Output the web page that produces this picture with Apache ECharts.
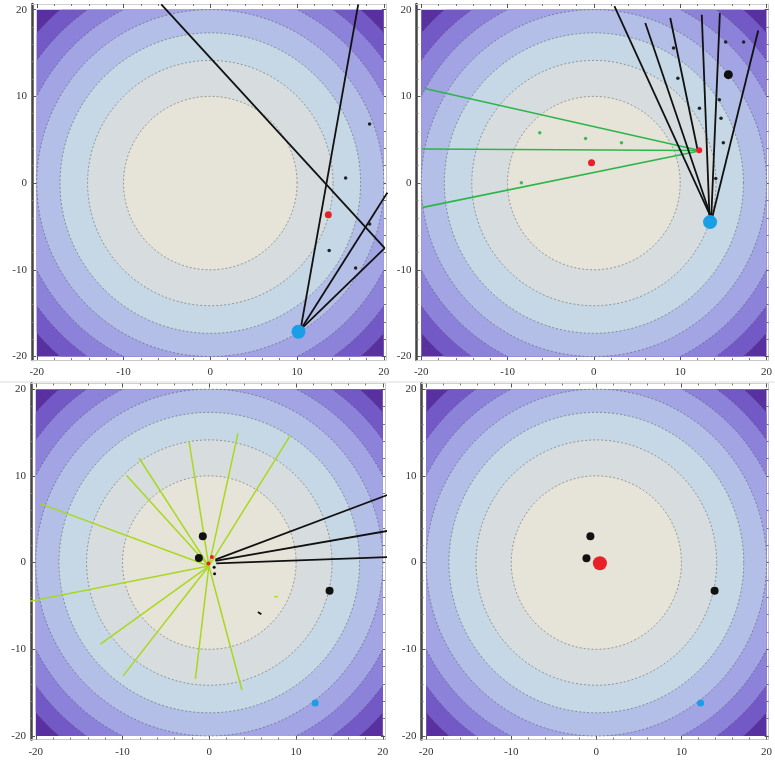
<!DOCTYPE html>
<html><head><meta charset="utf-8">
<script src="https://cdn.jsdelivr.net/npm/echarts@6/dist/echarts.min.js"></script>
<style>html,body{margin:0;padding:0;background:#fff}#c{width:775px;height:760px}</style>
</head><body><div id="c"></div>
<script>
// ---- contour definition: f = x^2 + y^2 ----
const contourLevels = [700, 600, 500, 400, 300, 200, 100];
const bandColors = ['#58309F', '#7259C6', '#8C82DA', '#A2A4E3', '#B3BFE6', '#C6D8E5', '#D7DDDE', '#E6E3D8'];
const majorTicks = [-20, -10, 0, 10, 20];
const tickLabels = ['-20', '-10', '0', '10', '20'];
const minorTicks = [-18, -16, -14, -12, -8, -6, -4, -2, 2, 4, 6, 8, 12, 14, 16, 18];

// ---- Panel 1 (top left) ----
const p1BlackLines = [
  [[10.4, -16.9], [17.05, 20.6]],
  [[10.4, -16.9], [20.4, -1.1]],
  [[10.4, -16.9], [20.1, -7.5]],
  [[-5.65, 20.6], [20.1, -7.5]]
];
const p1SmallBlack = [[18.36, 6.8], [15.6, 0.58], [18.36, -4.73], [13.7, -7.77], [16.75, -9.8]];
const p1Red = [[13.6, -3.65]];
const p1Blue = [[10.16, -17.15]];

// ---- Panel 2 (top right) ----
const p2BlackLines = [
  [[13.6, -4.0], [5.96, 18.46]],
  [[13.6, -4.0], [2.38, 20.4]],
  [[12.0, 3.9], [8.85, 19.04]],
  [[13.4, -4.0], [12.5, 19.4]],
  [[13.6, -4.0], [14.6, 19.6]],
  [[13.7, -4.0], [19.04, 17.6]]
];
const p2GreenLines = [
  [[11.9, 3.85], [-19.6, 10.9]],
  [[11.9, 3.75], [-19.9, 3.93]],
  [[11.9, 3.65], [-19.8, -2.8]]
];
const p2SmallBlack = [[9.23, 15.57], [15.27, 16.26], [17.35, 16.26], [9.73, 12.1], [12.23, 8.63], [14.54, 9.6], [14.73, 7.48], [15.0, 4.66], [14.12, 0.54]];
const p2BigBlack = [[15.58, 12.5]];
const p2SmallGreen = [[-6.27, 5.8], [-0.96, 5.15], [3.2, 4.65], [-8.4, 0.04]];
const p2Red = [[-0.27, 2.35]];
const p2RedSmall = [[12.2, 3.8]];
const p2Blue = [[13.46, -4.5]];

// ---- Panel 3 (bottom left) ----
const p3YellowLines = [
  [[-0.05, -0.4], [-19.5, 6.8]],
  [[-0.05, -0.4], [-20.9, -4.5]],
  [[-0.05, -0.4], [-9.56, 10.06]],
  [[-0.05, -0.4], [-8.1, 12.06]],
  [[-0.05, -0.4], [-2.34, 14.0]],
  [[-0.05, -0.4], [3.3, 14.9]],
  [[-0.05, -0.4], [9.3, 14.6]],
  [[-0.05, -0.4], [-12.55, -9.4]],
  [[-0.05, -0.4], [-9.94, -13.06]],
  [[-0.05, -0.4], [-1.6, -13.4]],
  [[-0.05, -0.4], [3.76, -14.7]],
  [[7.5, -3.95], [7.9, -3.9]]
];
const p3BlackLines = [
  [[0.7, 0.35], [20.8, 7.9]],
  [[0.7, 0.2], [20.8, 3.7]],
  [[0.8, -0.1], [20.8, 0.65]],
  [[5.6, -5.7], [6.0, -5.95]]
];
const p3Black = [[-0.75, 3.05], [-1.2, 0.52], [13.86, -3.24]];
const p3TinyBlack = [[0.56, -0.54], [0.61, -1.3]];
const p3Red = [[0.3, 0.65], [-0.1, -0.1]];
const p3Blue = [[12.2, -16.2]];

// ---- Panel 4 (bottom right) ----
const p4Black = [[-0.7, 3.04], [-1.16, 0.5], [13.9, -3.24]];
const p4Red = [[0.42, -0.08]];
const p4Blue = [[12.25, -16.2]];

const XMIN = -20.55, XMAX = 20.25, YMIN = -20.4, YMAX = 20.65;
const panels = [
  {left: 32, top: 4},
  {left: 416.5, top: 4},
  {left: 31, top: 383.5},
  {left: 421.5, top: 383.5}
];
const GW = 354, GH = 356;

const grid = panels.map(p => ({left: p.left, top: p.top, width: GW, height: GH, containLabel: false}));
const xAxis = [], yAxis = [];
const baseX = [], baseY = [];
const labelStyle = {fontFamily: 'Liberation Serif', fontSize: 11, color: '#333'};
panels.forEach((p, gi) => {
  const mk = (isX, position, major, showLabel, lineStyle) => {
    const ax = {
      type: 'value', gridIndex: gi, position: position,
      min: isX ? XMIN : YMIN, max: isX ? XMAX : YMAX,
      splitLine: {show: false},
      axisLine: lineStyle ? {show: true, onZero: false, lineStyle: lineStyle} : {show: false, onZero: false},
      axisTick: {show: true, inside: true, length: major ? 4 : 2, customValues: major ? majorTicks : minorTicks,
                 lineStyle: {color: major ? '#555' : '#777', width: 1}},
      axisLabel: showLabel ? Object.assign({show: true, customValues: majorTicks, margin: isX ? 7 : 5,
                 formatter: v => tickLabels[majorTicks.indexOf(v)] ?? String(v)}, labelStyle) : {show: false}
    };
    return ax;
  };
  baseX.push(xAxis.length);
  xAxis.push(mk(true, 'bottom', true, true, {color: '#c8c8c8', width: 1}));
  xAxis.push(mk(true, 'bottom', false, false, null));
  xAxis.push(mk(true, 'top', true, false, {color: '#d0d0d0', width: 1}));
  xAxis.push(mk(true, 'top', false, false, null));
  baseY.push(yAxis.length);
  yAxis.push(mk(false, 'left', true, true, {color: '#444', width: 2.5}));
  yAxis.push(mk(false, 'left', false, false, null));
  yAxis.push(mk(false, 'right', true, false, {color: '#c8c8c8', width: 1}));
  yAxis.push(mk(false, 'right', false, false, null));
});

function contourItem(params, api) {
  const idx = params.dataIndex;
  const r = Math.sqrt(api.value(2));
  const clamp = v => Math.max(-20, Math.min(20, v));
  const children = [];
  if (idx === 0) {
    const a = api.coord([-20, 20]), b = api.coord([20, -20]);
    children.push({type: 'rect', shape: {x: a[0], y: a[1], width: b[0] - a[0], height: b[1] - a[1]}, style: {fill: bandColors[0]}});
  }
  const N = 360, pts = [], arcs = [];
  let cur = null;
  for (let k = 0; k <= N; k++) {
    const t = 2 * Math.PI * k / N;
    const x = r * Math.cos(t), y = r * Math.sin(t);
    pts.push(api.coord([clamp(x), clamp(y)]));
    if (Math.abs(x) <= 20 && Math.abs(y) <= 20) {
      if (!cur) { cur = []; arcs.push(cur); }
      cur.push(api.coord([x, y]));
    } else cur = null;
  }
  children.push({type: 'polygon', shape: {points: pts}, style: {fill: bandColors[idx + 1]}});
  arcs.forEach(a => children.push({type: 'polyline', shape: {points: a},
    style: {stroke: 'rgba(70,70,70,0.6)', lineWidth: 0.8, lineDash: [2, 2], fill: null}}));
  return {type: 'group', children: children};
}

const series = [];
panels.forEach((p, gi) => {
  series.push({type: 'custom', xAxisIndex: baseX[gi], yAxisIndex: baseY[gi], silent: true, animation: false,
    renderItem: contourItem, encode: {x: 0, y: 1}, data: contourLevels.map(l => [0, 0, l]), z: 1});
});
function addLines(gi, segs, color, width) {
  series.push({type: 'lines', coordinateSystem: 'cartesian2d', xAxisIndex: baseX[gi], yAxisIndex: baseY[gi],
    silent: true, animation: false, clip: true, z: 3,
    lineStyle: {color: color, width: width, opacity: 1}, data: segs.map(s => ({coords: s}))});
}
function addPts(gi, pts, color, size) {
  series.push({type: 'scatter', xAxisIndex: baseX[gi], yAxisIndex: baseY[gi], silent: true, animation: false, z: 4,
    symbol: 'circle', symbolSize: size, itemStyle: {color: color, opacity: 1}, data: pts});
}
// panel 1
addLines(0, p1BlackLines, '#111', 1.8);
addPts(0, p1SmallBlack, '#222', 3.5);
addPts(0, p1Red, '#E8202A', 7);
addPts(0, p1Blue, '#1A9FE6', 14);
// panel 2
addLines(1, p2GreenLines, '#2DB54A', 1.6);
addLines(1, p2BlackLines, '#111', 1.8);
addPts(1, p2SmallBlack, '#222', 3.5);
addPts(1, p2BigBlack, '#111', 9);
addPts(1, p2SmallGreen, '#3DBB55', 3.5);
addPts(1, p2Red, '#E8202A', 7);
addPts(1, p2RedSmall, '#E8202A', 6);
addPts(1, p2Blue, '#1A9FE6', 14);
// panel 3
addLines(2, p3YellowLines, '#A8D81E', 1.5);
addLines(2, p3BlackLines, '#111', 1.8);
addPts(2, p3Black, '#111', 8);
addPts(2, p3TinyBlack, '#111', 3);
addPts(2, p3Red, '#E8202A', 4);
addPts(2, p3Blue, '#1A9FE6', 7);
// panel 4
addPts(3, p4Black, '#111', 8);
addPts(3, p4Red, '#E8202A', 14);
addPts(3, p4Blue, '#1A9FE6', 7);

const chart = echarts.init(document.getElementById('c'), null, {renderer: 'canvas'});
chart.setOption({
  animation: false,
  backgroundColor: '#fff',
  grid: grid, xAxis: xAxis, yAxis: yAxis, series: series,
  graphic: [
    {type: 'line', shape: {x1: 0, y1: 382, x2: 775, y2: 382}, style: {stroke: '#dcdcdc', lineWidth: 1}, silent: true}
  ]
});
</script></body></html>
